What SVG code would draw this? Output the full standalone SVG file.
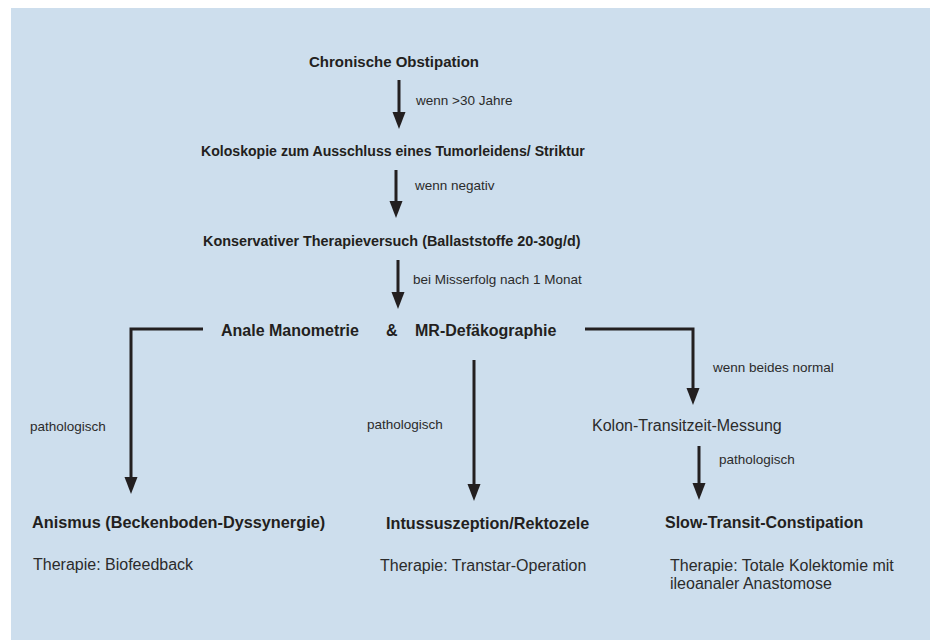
<svg xmlns="http://www.w3.org/2000/svg" width="931" height="640" viewBox="0 0 931 640">
<style>
.b{font-family:"Liberation Sans",Arial,Helvetica,sans-serif;font-weight:bold;fill:#231f20}
.n{font-family:"Liberation Sans",Arial,Helvetica,sans-serif;fill:#2b2b2b}
.lbl{font-size:13.5px}
.big{font-size:16px}
.con{fill:none;stroke:#231f20;stroke-width:3}
</style>
<defs>
<marker id="ah" markerUnits="userSpaceOnUse" markerWidth="18" markerHeight="14" refX="7" refY="6.5" orient="auto">
<path d="M0,0 L17,6.5 L0,13 z" fill="#231f20"/>
</marker>
</defs>
<rect x="11" y="8" width="919" height="632" fill="#cddeed"/>
<g id="connectors">
<path class="con" d="M399,80 V119" marker-end="url(#ah)"/>
<path class="con" d="M396,170 V208" marker-end="url(#ah)"/>
<path class="con" d="M398,260 V299" marker-end="url(#ah)"/>
<path class="con" d="M203,329 H131 V484" marker-end="url(#ah)"/>
<path class="con" d="M585,329 H693 V395" marker-end="url(#ah)"/>
<path class="con" d="M474,360 V491" marker-end="url(#ah)"/>
<path class="con" d="M699,446 V490" marker-end="url(#ah)"/>
<text class="n lbl" x="416" y="105">wenn &gt;30 Jahre</text>
<text class="n lbl" x="415" y="190">wenn negativ</text>
<text class="n lbl" x="413" y="284">bei Misserfolg nach 1 Monat</text>
<text class="n lbl" x="713" y="372">wenn beides normal</text>
<text class="n lbl" x="30" y="431">pathologisch</text>
<text class="n lbl" x="367" y="429">pathologisch</text>
<text class="n lbl" x="719" y="464">pathologisch</text>
</g>
<g id="n1"><text class="b" font-size="15" x="309" y="67">Chronische Obstipation</text></g>
<g id="n2"><text class="b" font-size="14.1" x="201" y="156">Koloskopie zum Ausschluss eines Tumorleidens/ Striktur</text></g>
<g id="n3"><text class="b" font-size="14.4" x="203" y="246">Konservativer Therapieversuch (Ballaststoffe 20-30g/d)</text></g>
<g id="n4"><text class="b" font-size="16" x="221" y="336">Anale Manometrie</text><text class="b" font-size="16" x="386" y="336">&amp;</text><text class="b" font-size="16" x="415" y="336">MR-Defäkographie</text></g>
<g id="n5"><text class="n big" x="592" y="431">Kolon-Transitzeit-Messung</text></g>
<g id="n6"><text class="b" font-size="16.3" x="32" y="528">Anismus (Beckenboden-Dyssynergie)</text><text class="n big" x="33" y="570">Therapie: Biofeedback</text></g>
<g id="n7"><text class="b" font-size="16.2" x="386" y="529">Intussuszeption/Rektozele</text><text class="n big" x="380" y="571">Therapie: Transtar-Operation</text></g>
<g id="n8"><text class="b big" x="665" y="528">Slow-Transit-Constipation</text><text class="n big" x="670" y="571">Therapie: Totale Kolektomie mit</text><text class="n big" x="670" y="589">ileoanaler Anastomose</text></g>
</svg>
